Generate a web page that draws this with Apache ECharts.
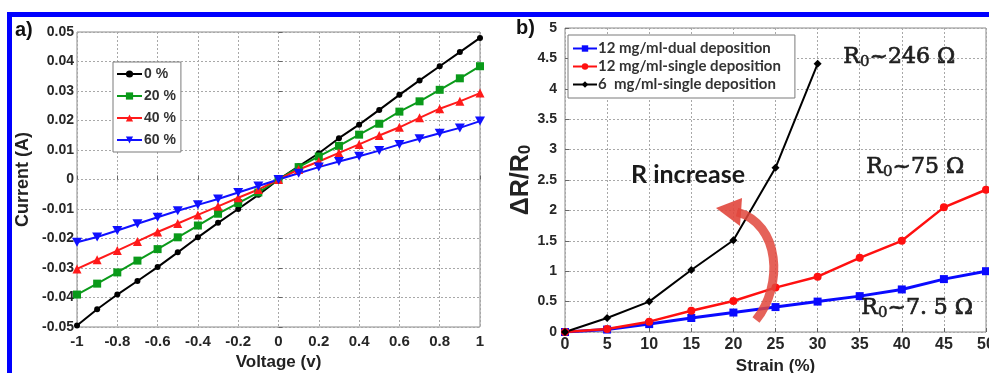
<!DOCTYPE html>
<html><head><meta charset="utf-8">
<script src="https://cdn.jsdelivr.net/npm/echarts@6/dist/echarts.min.js"></script>
<style>html,body{margin:0;padding:0;background:#fff}#c{width:989px;height:373px}</style>
</head><body><div id="c"></div>
<script>
// ---- Panel a) data ----
const voltage = [-1,-0.9,-0.8,-0.7,-0.6,-0.5,-0.4,-0.3,-0.2,-0.1,0,0.1,0.2,0.3,0.4,0.5,0.6,0.7,0.8,0.9,1];
const current0  = [-0.0495,-0.044,-0.039,-0.0344,-0.0297,-0.0247,-0.0196,-0.0147,-0.0100,-0.0052,0,0.0045,0.0089,0.0140,0.0186,0.0236,0.0287,0.0336,0.0384,0.0432,0.0480];
const current20 = [-0.0390,-0.0353,-0.0315,-0.0275,-0.0236,-0.0196,-0.0156,-0.0116,-0.0080,-0.0044,0,0.0042,0.0078,0.0114,0.0152,0.0189,0.0230,0.0265,0.0304,0.0343,0.0384];
const current40 = [-0.0303,-0.0272,-0.0241,-0.0210,-0.0178,-0.0149,-0.0120,-0.0091,-0.0062,-0.0034,0,0.0034,0.0061,0.0090,0.0119,0.0149,0.0177,0.0209,0.0240,0.0265,0.0293];
const current60 = [-0.0213,-0.0195,-0.0173,-0.0150,-0.0128,-0.0106,-0.0086,-0.0066,-0.0044,-0.0022,0,0.0021,0.0042,0.0061,0.0079,0.0098,0.0119,0.0138,0.0157,0.0175,0.0198];
const namesA = ['0 %','20 %','40 %','60 %'];

// ---- Panel b) data ----
const strain = [0,5,10,15,20,25,30,35,40,45,50];
const dual12   = [0,0.04,0.13,0.23,0.32,0.41,0.50,0.59,0.70,0.87,1.00];
const single12 = [0,0.05,0.17,0.35,0.51,0.73,0.91,1.22,1.50,2.05,2.34];
const single6  = [0,0.23,0.50,1.02,1.51,2.70,4.41];
const namesB = ['12 mg/ml-dual deposition','12 mg/ml-single deposition','6  mg/ml-single deposition'];

const zip = (xs, ys) => ys.map((y, i) => [xs[i], y]);
const tickFont = {fontFamily:'Liberation Sans', fontWeight:'bold', color:'#262626'};
const gridLine = {show:true, lineStyle:{color:'#a8a8a8', type:[2,2], width:1}};
const axisBase = {axisLine:{show:false}, axisTick:{show:true, inside:true, length:4, lineStyle:{color:'#666'}}, splitLine:gridLine};
const tri_down = 'path://M0,0 L10,0 L5,9 Z';
const rich0 = {
  m:{fontFamily:'DejaVu Serif', fontSize:22, fontWeight:'normal', fill:'#1e1e1e', stroke:'#1e1e1e', lineWidth:0.7},
  s:{fontFamily:'DejaVu Serif', fontSize:15, fontWeight:'normal', fill:'#1e1e1e', stroke:'#1e1e1e', lineWidth:0.5, padding:[9,0,0,0]}
};

const chart = echarts.init(document.getElementById('c'), null, {renderer:'canvas'});
chart.setOption({
  backgroundColor:'#fff',
  animation:false,
  grid:[
    {left:77, top:32, width:403, height:295, show:true, borderColor:'#8a8a8a', borderWidth:1, backgroundColor:'#fff', outerBoundsMode:'none', containLabel:false},
    {left:565, top:28, width:421, height:304, show:true, borderColor:'#8a8a8a', borderWidth:1, backgroundColor:'#fff', outerBoundsMode:'none', containLabel:false}
  ],
  xAxis:[
    Object.assign({gridIndex:0, type:'value', min:-1, max:1, interval:0.2,
      name:'Voltage (v)', nameLocation:'middle', nameGap:24,
      nameTextStyle:{fontFamily:'Liberation Sans', fontWeight:'bold', fontSize:17, color:'#222'},
      axisLabel:Object.assign({fontSize:15, margin:7}, tickFont)}, axisBase),
    Object.assign({gridIndex:1, type:'value', min:0, max:50, interval:5,
      name:'Strain (%)', nameLocation:'middle', nameGap:22,
      nameTextStyle:{fontFamily:'Liberation Sans', fontWeight:'bold', fontSize:17, color:'#222'},
      axisLabel:Object.assign({fontSize:16, margin:5}, tickFont)}, axisBase)
  ],
  yAxis:[
    Object.assign({gridIndex:0, type:'value', min:-0.05, max:0.05, interval:0.01,
      name:'Current (A)', nameLocation:'middle', nameGap:45,
      nameTextStyle:{fontFamily:'Liberation Sans', fontWeight:'bold', fontSize:18, color:'#222'},
      axisLabel:Object.assign({fontSize:14, margin:3}, tickFont)}, axisBase),
    Object.assign({gridIndex:1, type:'value', min:0, max:5, interval:0.5,
      name:'{m|ΔR/R}{s|0}', nameLocation:'middle', nameGap:28,
      nameTextStyle:{rich:{
        m:{fontFamily:'Liberation Sans', fontWeight:'bold', fontSize:25, color:'#222'},
        s:{fontFamily:'Liberation Sans', fontWeight:'bold', fontSize:17, color:'#222', padding:[9,0,0,0]}}},
      axisLabel:Object.assign({fontSize:14, margin:8}, tickFont)}, axisBase)
  ],
  legend:[
    {data:namesA, orient:'vertical', left:113, top:62, padding:[5,5,5,3], itemGap:8,
     itemWidth:25, itemHeight:9, borderColor:'#7a7a7a', borderWidth:1, backgroundColor:'#fff',
     textStyle:{fontFamily:'Liberation Sans', fontWeight:'bold', fontSize:14, color:'#333', padding:[0,0,0,-3]}},
    {data:namesB, orient:'vertical', left:568, top:35, padding:[6,14,6,4], itemGap:3,
     itemWidth:24, itemHeight:8, borderColor:'#7a7a7a', borderWidth:1, backgroundColor:'#fff',
     textStyle:{fontFamily:'Lato', fontWeight:'bold', fontSize:15, color:'#333', padding:[0,0,0,-4]}}
  ],
  series:[
    {name:namesA[0], type:'line', xAxisIndex:0, yAxisIndex:0, data:zip(voltage,current0), symbol:'circle', symbolSize:6,
     lineStyle:{color:'#000', width:2}, itemStyle:{color:'#000'}},
    {name:namesA[1], type:'line', xAxisIndex:0, yAxisIndex:0, data:zip(voltage,current20), symbol:'rect', symbolSize:8,
     lineStyle:{color:'#0a9a1a', width:2}, itemStyle:{color:'#0a9a1a'}},
    {name:namesA[2], type:'line', xAxisIndex:0, yAxisIndex:0, data:zip(voltage,current40), symbol:'triangle', symbolSize:9,
     lineStyle:{color:'#ff1a1a', width:2}, itemStyle:{color:'#ff1a1a'}},
    {name:namesA[3], type:'line', xAxisIndex:0, yAxisIndex:0, data:zip(voltage,current60), symbol:tri_down, symbolSize:[10,9],
     lineStyle:{color:'#1010ff', width:2}, itemStyle:{color:'#1010ff'}},
    {name:namesB[0], type:'line', xAxisIndex:1, yAxisIndex:1, data:zip(strain,dual12), symbol:'rect', symbolSize:8,
     lineStyle:{color:'#0a0aff', width:3}, itemStyle:{color:'#0a0aff'}},
    {name:namesB[1], type:'line', xAxisIndex:1, yAxisIndex:1, data:zip(strain,single12), symbol:'circle', symbolSize:8,
     lineStyle:{color:'#ff1010', width:2.5}, itemStyle:{color:'#ff1010'}},
    {name:namesB[2], type:'line', xAxisIndex:1, yAxisIndex:1, data:zip(strain,single6), symbol:'diamond', symbolSize:8,
     lineStyle:{color:'#000', width:2}, itemStyle:{color:'#000'}}
  ],
  graphic:[
    {type:'rect', shape:{x:7, y:12, width:982, height:5}, style:{fill:'#0000ff'}, z:100},
    {type:'rect', shape:{x:7, y:12, width:5, height:361}, style:{fill:'#0000ff'}, z:100},
    {type:'text', left:15, top:20, style:{text:'a)', font:'bold 20px "Liberation Sans"', fill:'#111'}},
    {type:'text', left:516, top:18, style:{text:'b)', font:'bold 20px "Liberation Sans"', fill:'#111'}},
    {type:'text', left:631, top:162, style:{text:'R increase', font:'bold 25px Lato', fill:'#1a1a1a'}, z:50},
    {type:'text', left:843, top:46, z:50, style:{text:'{m|R}{s|0}{m|~246 Ω}', rich:rich0}},
    {type:'text', left:866, top:156, z:50, style:{text:'{m|R}{s|0}{m|~75 Ω}', rich:rich0}},
    {type:'text', left:861, top:297, z:50, style:{text:'{m|R}{s|0}{m|~7. 5 Ω}', rich:rich0}},
    {type:'bezierCurve', z:60, shape:{x1:756, y1:320, cpx1:784, cpy1:285, cpx2:780, cpy2:224, x2:737, y2:212},
     style:{stroke:'rgba(225,70,60,0.85)', lineWidth:9, fill:null}},
    {type:'polygon', z:60, shape:{points:[[716,208],[742,198],[740,226]]}, style:{fill:'rgba(225,70,60,0.9)'}}
  ]
});
</script></body></html>
